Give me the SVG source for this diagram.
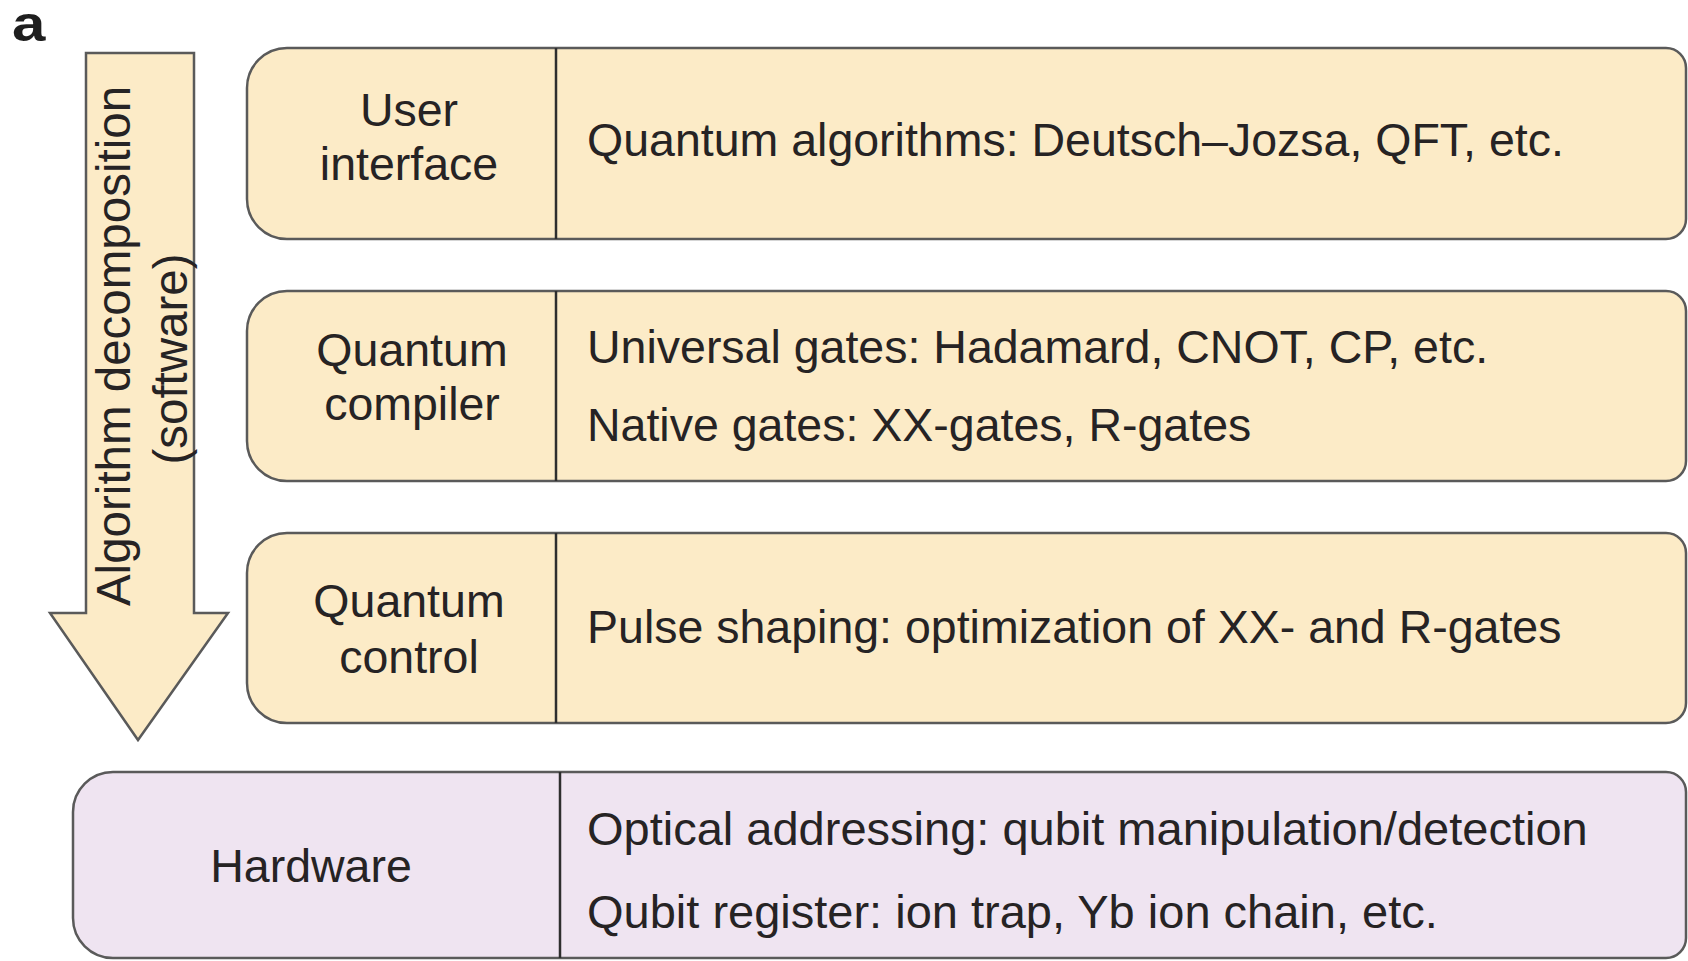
<svg xmlns="http://www.w3.org/2000/svg" width="1688" height="961" viewBox="0 0 1688 961">
<style>
  .t { font-family: "Liberation Sans", Arial, sans-serif; font-size: 46.5px; fill: #262324; }
  .c { text-anchor: middle; }
  .v { font-size: 47.5px; }
  .h { font-size: 47px; }
  .box { fill: #fcebc7; stroke: #5a5a5a; stroke-width: 2.5; }
  .hw { fill: #efe4f1; stroke: #5a5a5a; stroke-width: 2.5; }
  .div { stroke: #2e2e2e; stroke-width: 2.5; }
</style>
<rect width="1688" height="961" fill="#ffffff"/>
<text transform="translate(12,41) scale(1.2,1)" style="font-family:'Liberation Sans',Arial,sans-serif;font-size:50px;font-weight:bold;fill:#1e1e1e">a</text>

<g id="arrow">
  <polygon points="86,53 194,53 194,613 228,613 138,740 50,613 86,613" fill="#fcebc7" stroke="#5a5a5a" stroke-width="2.5" stroke-linejoin="miter"/>
  <text class="t c v" transform="translate(130,346) rotate(-90)">Algorithm decomposition</text>
  <text class="t c v" transform="translate(187,359) rotate(-90)">(software)</text>
</g>

<g id="user-interface">
  <path class="box" d="M287 48 H1666 A20 20 0 0 1 1686 68 V219 A20 20 0 0 1 1666 239 H287 A40 40 0 0 1 247 199 V88 A40 40 0 0 1 287 48 Z"/>
  <line class="div" x1="556" y1="48" x2="556" y2="239"/>
  <text class="t c" x="409" y="126">User</text>
  <text class="t c" x="409" y="180">interface</text>
  <text class="t" x="587" y="156">Quantum algorithms: Deutsch–Jozsa, QFT, etc.</text>
</g>

<g id="quantum-compiler">
  <path class="box" d="M287 291 H1666 A20 20 0 0 1 1686 311 V461 A20 20 0 0 1 1666 481 H287 A40 40 0 0 1 247 441 V331 A40 40 0 0 1 287 291 Z"/>
  <line class="div" x1="556" y1="291" x2="556" y2="481"/>
  <text class="t c" x="412" y="366">Quantum</text>
  <text class="t c" x="412" y="420">compiler</text>
  <text class="t" x="587" y="363">Universal gates: Hadamard, CNOT, CP, etc.</text>
  <text class="t" x="587" y="441">Native gates: XX-gates, R-gates</text>
</g>

<g id="quantum-control">
  <path class="box" d="M287 533 H1666 A20 20 0 0 1 1686 553 V703 A20 20 0 0 1 1666 723 H287 A40 40 0 0 1 247 683 V573 A40 40 0 0 1 287 533 Z"/>
  <line class="div" x1="556" y1="533" x2="556" y2="723"/>
  <text class="t c" x="409" y="617">Quantum</text>
  <text class="t c" x="409" y="673">control</text>
  <text class="t" x="587" y="643">Pulse shaping: optimization of XX- and R-gates</text>
</g>

<g id="hardware">
  <path class="hw" d="M113 772 H1666 A20 20 0 0 1 1686 792 V938 A20 20 0 0 1 1666 958 H113 A40 40 0 0 1 73 918 V812 A40 40 0 0 1 113 772 Z"/>
  <line class="div" x1="560" y1="772" x2="560" y2="958"/>
  <text class="t c" x="311" y="882">Hardware</text>
  <text class="t h" x="587" y="845">Optical addressing: qubit manipulation/detection</text>
  <text class="t h" x="587" y="928">Qubit register: ion trap, Yb ion chain, etc.</text>
</g>

<g id="connectors"></g>
</svg>
